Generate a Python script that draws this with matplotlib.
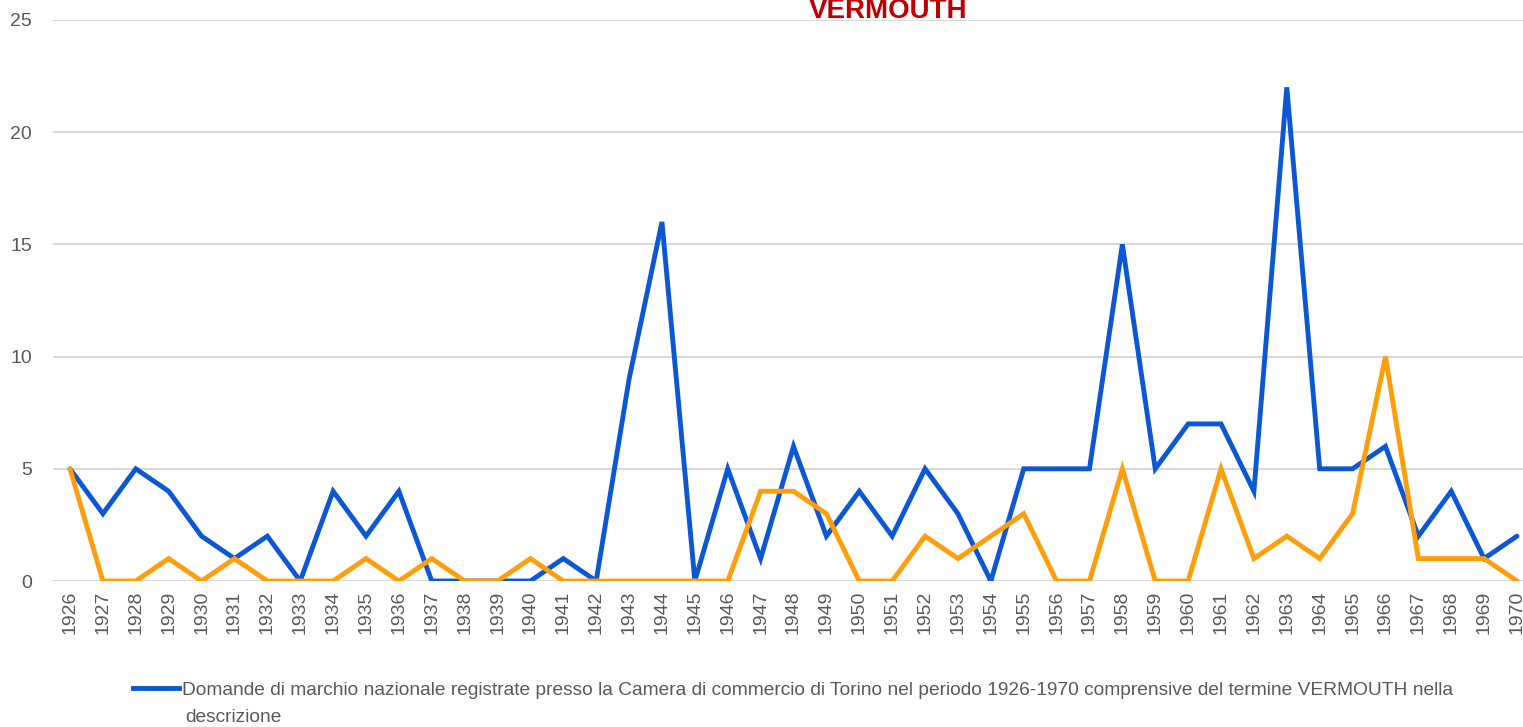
import matplotlib as mpl

mpl.use("Agg")
import matplotlib.pyplot as plt
from matplotlib.lines import Line2D

# Data
years = list(range(1926, 1971))
domande_vermouth = [
    5, 3, 5, 4, 2, 1, 2, 0, 4, 2, 4, 0, 0, 0, 0, 1, 0, 9, 16, 0,
    5, 1, 6, 2, 4, 2, 5, 3, 0, 5, 5, 5, 15, 5, 7, 7, 4, 22, 5, 5,
    6, 2, 4, 1, 2,
]
seconda_serie = [
    5, 0, 0, 1, 0, 1, 0, 0, 0, 1, 0, 1, 0, 0, 1, 0, 0, 0, 0, 0,
    0, 4, 4, 3, 0, 0, 2, 1, 2, 3, 0, 0, 5, 0, 0, 5, 1, 2, 1, 3,
    10, 1, 1, 1, 0,
]
y_ticks = [0, 5, 10, 15, 20, 25]
legend_label = ("Domande di marchio nazionale registrate presso la Camera di commercio "
                "di Torino nel periodo 1926-1970 comprensive del termine VERMOUTH nella")
legend_label_2 = "descrizione"

BLUE = "#0B57D4"
ORANGE = "#FF9E0B"
GRAY = "#595959"
FONT = "Liberation Sans"

W, H = 1523, 727
fig = plt.figure(figsize=(W / 100, H / 100), dpi=100)

# plot area in pixels: left 53, gridline 25 at y=20, 0 at y=581
ax = fig.add_axes([53 / W, 1 - 581 / H, (W - 53) / W, (581 - 20) / H])

x = list(range(len(years)))
ax.plot(x, domande_vermouth, color=BLUE, linewidth=3.5, solid_joinstyle="miter",
        solid_capstyle="round", zorder=3)
ax.plot(x, seconda_serie, color=ORANGE, linewidth=3.5, solid_joinstyle="miter",
        solid_capstyle="round", zorder=4)

step = (1517 - 70) / 44
ax.set_xlim(-(70 - 53) / step, (W - 70) / step)
ax.set_ylim(0, 25)
ax.set_yticks(y_ticks)
ax.set_yticklabels([str(v) for v in y_ticks], fontsize=14, color=GRAY, family=FONT)
ax.set_xticks(x)
ax.set_xticklabels([str(y) for y in years], rotation=90, fontsize=14, color=GRAY,
                   family=FONT)
ax.tick_params(length=0, pad=7)
ax.tick_params(axis="y", pad=15)
ax.yaxis.grid(True, color="#D9D9D9", linewidth=1.5)
ax.set_axisbelow(True)
for s in ax.spines.values():
    s.set_visible(False)

# title, partially cut at the top edge
fig.text(888 / W, 1 - 18 / H, "VERMOUTH", ha="center", va="baseline",
         fontsize=20, fontweight="bold", color="#C00000", family=FONT)

# legend (only the blue series is shown)
handle = Line2D([], [], color=BLUE, linewidth=3.5)
fig.legend([handle], [legend_label], loc="center left",
           bbox_to_anchor=(133 / W, 1 - 690 / H), frameon=False,
           borderpad=0, borderaxespad=0, handlelength=2.4, handletextpad=0.15,
           prop={"family": FONT, "size": 13.8}, labelcolor=GRAY)
fig.text(185 / W, 1 - 717 / H, legend_label_2, ha="left", va="center",
         fontsize=13.8, color=GRAY, family=FONT)

fig.savefig("out.png", dpi=100)
